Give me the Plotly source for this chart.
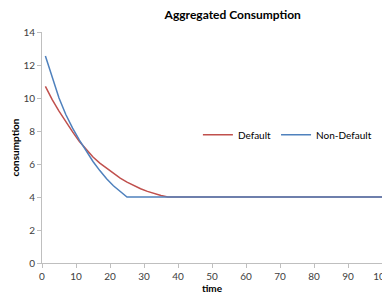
import plotly.graph_objects as go

# Data
time_default = [1, 3, 5, 7, 9, 11, 13, 15, 17, 19, 21, 23, 25, 27, 29, 31, 33, 35, 37, 40, 50, 60, 70, 80, 90, 100]
cons_default = [10.7, 9.9, 9.2, 8.55, 7.95, 7.36, 6.86, 6.42, 6.05, 5.73, 5.43, 5.14, 4.9, 4.68, 4.5, 4.34, 4.2, 4.09, 4.0, 4.0, 4.0, 4.0, 4.0, 4.0, 4.0, 4.0]

time_nondefault = [1, 3, 5, 7, 9, 11, 13, 15, 17, 19, 21, 23, 25, 30, 40, 50, 60, 70, 80, 90, 100]
cons_nondefault = [12.55, 11.2, 10.0, 9.0, 8.17, 7.45, 6.78, 6.15, 5.6, 5.1, 4.68, 4.32, 4.0, 4.0, 4.0, 4.0, 4.0, 4.0, 4.0, 4.0, 4.0]

series_names = ["Default", "Non-Default"]
series_colors = ["#C0504D", "#4F81BD"]

FONT = "Lato, 'Open Sans', sans-serif"

fig = go.Figure()
fig.add_trace(go.Scatter(x=time_default, y=cons_default, mode="lines", name=series_names[0],
                         line=dict(color=series_colors[0], width=1.5)))
fig.add_trace(go.Scatter(x=time_nondefault, y=cons_nondefault, mode="lines", name=series_names[1],
                         line=dict(color=series_colors[1], width=1.5)))

fig.update_layout(
    width=382, height=294,
    margin=dict(l=42, r=0, t=32, b=31),
    paper_bgcolor="white", plot_bgcolor="white",
    font=dict(family=FONT, size=10, color="#404040"),
    title=dict(text="<b>Aggregated Consumption</b>", x=0.561, xref="paper", xanchor="center",
               y=0.95, yanchor="middle", font=dict(size=12, color="#000000")),
    showlegend=True,
    legend=dict(orientation="h", x=0.985, xanchor="right", y=0.555, yanchor="middle",
                font=dict(size=10, color="#000000"), bgcolor="rgba(0,0,0,0)",
                itemwidth=30, tracegroupgap=0),
)
fig.update_xaxes(
    range=[0, 100], dtick=10, tick0=0, showgrid=False, zeroline=False,
    showline=True, linecolor="#BFBFBF", linewidth=1,
    ticks="outside", ticklen=4, tickcolor="#BFBFBF",
    ticklabeloverflow="allow", automargin=False,
    title=dict(text="<b>time</b>", font=dict(size=10, color="#000000"), standoff=0),
)
fig.update_yaxes(
    range=[0, 14], dtick=2, tick0=0, showgrid=False, zeroline=False,
    showline=True, linecolor="#BFBFBF", linewidth=1,
    ticks="outside", ticklen=4, tickcolor="#BFBFBF", automargin=False,
    title=dict(text="<b>consumption</b>", font=dict(size=10, color="#000000"), standoff=1),
)

fig.write_html("out.html", config={"displayModeBar": False},
               post_script="document.body.style.margin='0';document.body.style.padding='0';")
